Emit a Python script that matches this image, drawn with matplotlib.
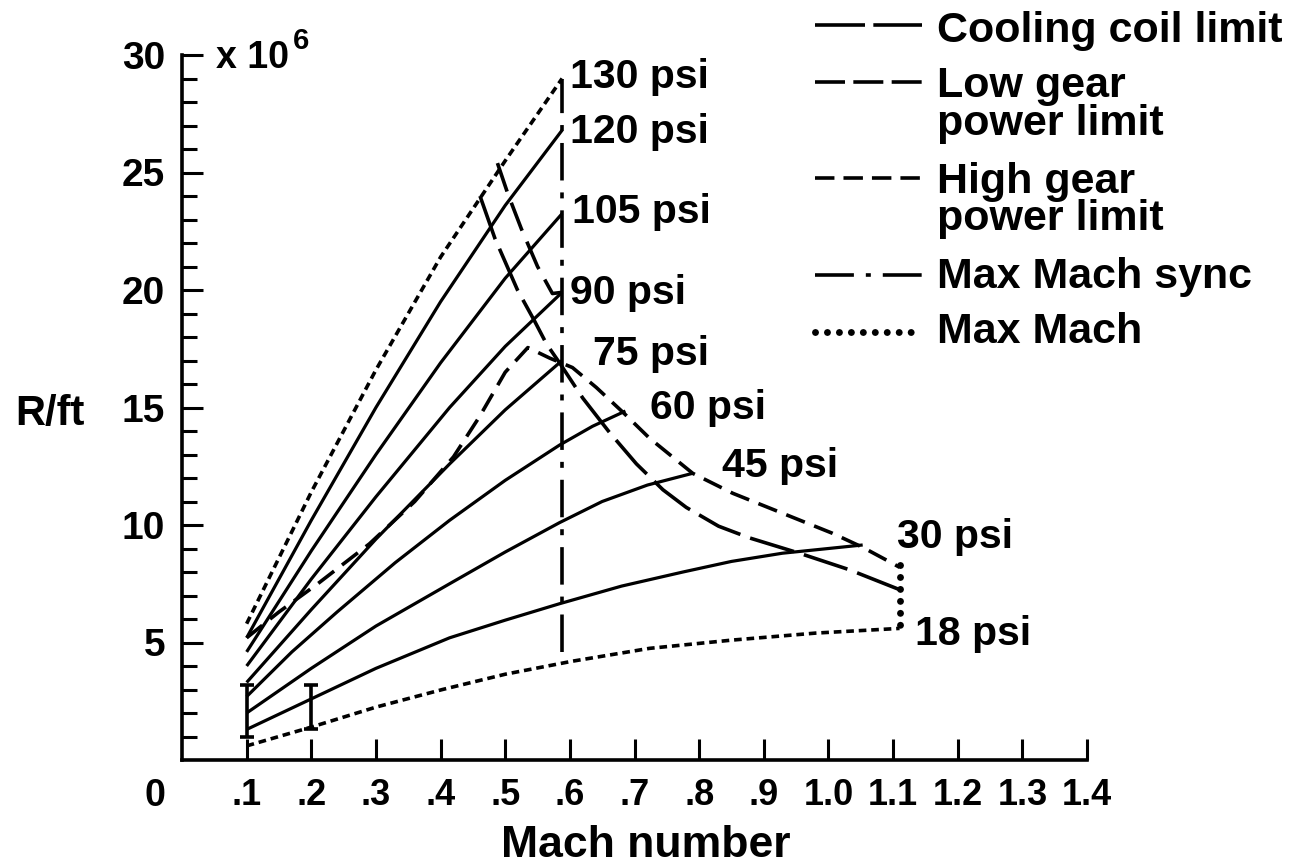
import matplotlib
matplotlib.use("Agg")
import matplotlib.pyplot as plt
from matplotlib.lines import Line2D

plt.rcParams['font.family'] = ['Liberation Sans', 'DejaVu Sans']
plt.rcParams['font.weight'] = 'bold'
plt.rcParams['lines.scale_dashes'] = False

# ---------------- data (Mach number, R/ft x 1e6) ----------------
mach_ticks = [0.1, 0.2, 0.3, 0.4, 0.5, 0.6, 0.7, 0.8, 0.9, 1.0, 1.1, 1.2, 1.3, 1.4]
mach_tick_labels = ['.1', '.2', '.3', '.4', '.5', '.6', '.7', '.8', '.9',
                    '1.0', '1.1', '1.2', '1.3', '1.4']
rft_ticks = [5, 10, 15, 20, 25, 30]

# constant-pressure lines
p130_x = [0.10, 0.20, 0.30, 0.40, 0.50, 0.588]
p130_y = [5.8, 11.4, 16.6, 21.4, 25.5, 29.0]
p120_x = [0.10, 0.20, 0.30, 0.40, 0.50, 0.588]
p120_y = [5.2, 10.2, 15.0, 19.5, 23.6, 26.8]
p105_x = [0.10, 0.20, 0.30, 0.40, 0.50, 0.588]
p105_y = [4.6, 8.9, 13.0, 16.9, 20.5, 23.25]
p90_x = [0.10, 0.20, 0.30, 0.414, 0.50, 0.588]
p90_y = [4.0, 7.7, 11.2, 15.0, 17.6, 19.9]
p75_x = [0.10, 0.20, 0.30, 0.414, 0.50, 0.588]
p75_y = [3.3, 6.4, 9.4, 12.6, 14.9, 17.0]
p60_x = [0.10, 0.17, 0.24, 0.33, 0.414, 0.50, 0.584, 0.635, 0.686]
p60_y = [2.7, 4.6, 6.3, 8.4, 10.2, 11.9, 13.4, 14.2, 14.85]
p45_x = [0.10, 0.20, 0.30, 0.414, 0.50, 0.584, 0.65, 0.72, 0.79]
p45_y = [2.0, 3.9, 5.7, 7.5, 8.85, 10.1, 11.0, 11.7, 12.2]
p30_x = [0.10, 0.20, 0.30, 0.414, 0.50, 0.584, 0.68, 0.775, 0.85, 0.929, 1.0, 1.053]
p30_y = [1.3, 2.6, 3.9, 5.2, 5.95, 6.65, 7.4, 8.0, 8.45, 8.8, 9.0, 9.15]
p18_x = [0.10, 0.20, 0.30, 0.403, 0.50, 0.603, 0.723, 0.85, 0.98, 1.11]
p18_y = [0.6, 1.4, 2.25, 3.0, 3.65, 4.2, 4.75, 5.1, 5.4, 5.6]

# limit lines
cool_x = [0.461, 0.484, 0.519, 0.545, 0.564, 0.584, 0.62, 0.661, 0.703, 0.744,
          0.78, 0.83, 0.878, 0.955, 1.032, 1.11]
cool_y = [24.0, 22.2, 20.0, 18.7, 17.7, 16.9, 15.4, 13.95, 12.6, 11.5,
          10.75, 9.95, 9.45, 8.8, 8.1, 7.25]
lowgear_x = [0.488, 0.504, 0.525, 0.55, 0.573, 0.588]
lowgear_y = [25.4, 24.1, 22.6, 21.0, 19.85, 19.9]
highgear_x = [0.10, 0.15, 0.21, 0.29, 0.36, 0.42, 0.46, 0.50, 0.535, 0.569,
              0.604, 0.641, 0.682, 0.723, 0.79, 0.852, 0.929, 1.006, 1.053, 1.099, 1.11]
highgear_y = [5.2, 6.3, 7.5, 9.2, 11.0, 12.9, 14.6, 16.5, 17.55, 17.1,
              16.7, 15.85, 14.8, 13.7, 12.2, 11.35, 10.5, 9.65, 9.05, 8.37, 8.2]
sync_x = [0.588, 0.588]
sync_y = [4.6, 29.0]
maxmach_x = [1.11, 1.11]
maxmach_y = [8.3, 5.6]

# uncertainty bars
err_x = [0.1, 0.2]
err_lo = [1.0, 1.3]
err_hi = [3.2, 3.2]

psi_labels = ['130 psi', '120 psi', '105 psi', '90 psi', '75 psi', '60 psi',
              '45 psi', '30 psi', '18 psi']
psi_label_x = [0.600, 0.600, 0.603, 0.600, 0.636, 0.724, 0.835, 1.106, 1.134]
psi_label_y = [28.6, 26.26, 22.86, 19.42, 16.79, 14.53, 12.03, 9.01, 4.89]

legend_labels = ['Cooling coil limit', 'Low gear\npower limit', 'High gear\npower limit',
                 'Max Mach sync', 'Max Mach']

# ---------------- styles ----------------
LW = 2.3
st_solid = dict(color='black', lw=LW, solid_capstyle='butt', solid_joinstyle='round')
st_fine = dict(color='black', lw=2.6, ls=(0, (5.5, 3.5)), dash_capstyle='butt')
st_dots = dict(color='black', lw=5, ls=(0, (0.01, 8.6)), dash_capstyle='round')
st_cool = dict(color='black', lw=2.6, ls=(0, (33, 7.5)), dash_capstyle='butt')
st_low = dict(color='black', lw=2.6, ls=(0, (21.6, 8.6)), dash_capstyle='butt')
st_high = dict(color='black', lw=2.6, ls=(0, (14.4, 7.2)), dash_capstyle='butt')
st_sync = dict(color='black', lw=2.6, ls=(0, (27, 8.6, 4.3, 8.6)), dash_capstyle='butt')

W, H = 1297, 868
fig = plt.figure(figsize=(W / 100, H / 100), dpi=100)
ax = fig.add_axes([182 / W, 1 - 760 / H, (1087 - 182) / W, (760 - 55) / H])
ax.set_xlim(0, 1.4)
ax.set_ylim(0, 30)

ax.plot(p130_x, p130_y, **st_fine)
for xs, ys in [(p120_x, p120_y), (p105_x, p105_y), (p90_x, p90_y), (p75_x, p75_y),
               (p60_x, p60_y), (p45_x, p45_y), (p30_x, p30_y)]:
    ax.plot(xs, ys, **st_solid)
ax.plot(p18_x, p18_y, **st_fine)
ax.plot(maxmach_x, maxmach_y, **st_dots)
ax.plot(cool_x, cool_y, **st_cool)
ax.plot(lowgear_x, lowgear_y, **st_low)
ax.plot(highgear_x, highgear_y, **st_high)
ax.plot(sync_x, sync_y, **st_sync)

mid = [(a + b) / 2 for a, b in zip(err_lo, err_hi)]
half = [(b - a) / 2 for a, b in zip(err_lo, err_hi)]
ax.errorbar(err_x, mid, yerr=half, fmt='none', ecolor='black', elinewidth=2.6,
            capsize=4.7, capthick=2.6)

for t, x, y in zip(psi_labels, psi_label_x, psi_label_y):
    ax.text(x, y, t, fontsize=29.5, fontweight='bold', ha='left', va='baseline')

# axes styling
for s in ['top', 'right']:
    ax.spines[s].set_visible(False)
for s in ['left', 'bottom']:
    ax.spines[s].set_linewidth(2.6)
ax.set_xticks(mach_ticks)
ax.set_xticklabels(mach_tick_labels)
ax.set_yticks(rft_ticks)
ax.set_yticks(range(1, 30), minor=True)
ax.tick_params(axis='x', direction='in', length=15, width=2.2, pad=13, labelsize=26)
ax.tick_params(axis='y', which='major', direction='in', length=15, width=2.2, pad=12, labelsize=28)
ax.tick_params(axis='y', which='minor', direction='in', length=10.5, width=2.2)
ax.tick_params(axis='x', which='minor', bottom=False)
for lab in ax.get_xticklabels() + ax.get_yticklabels():
    lab.set_fontweight('bold')

ax.annotate('0', xy=(0, 0), xycoords='data', xytext=(-27, -36), textcoords='offset pixels',
            fontsize=27, fontweight='bold', ha='center', va='center')

ax.set_xlabel('Mach number', fontsize=32, fontweight='bold')
ax.xaxis.set_label_coords((646 - 182) / 905, (760 - 857) / 705)
ax.xaxis.label.set_va('baseline')
ax.set_ylabel('R/ft', fontsize=30, fontweight='bold', rotation=0)
ax.yaxis.set_label_coords((50 - 182) / 905, (760 - 425) / 705)
ax.yaxis.label.set_va('baseline')
ax.yaxis.label.set_ha('center')

ax.text(0.052, 29.45, 'x 10', fontsize=27, fontweight='bold', ha='left', va='baseline')
ax.text(0.171, 30.25, '6', fontsize=21, fontweight='bold', ha='left', va='baseline')

# ---------------- legend (drawn manually in figure pixels) ----------------
def fx(px):
    return px / W

def fy(py):
    return 1 - py / H

leg_styles = [
    dict(color='black', lw=2.6, ls=(0, (36, 6)), dash_capstyle='butt'),
    dict(color='black', lw=2.6, ls=(0, (21.6, 6)), dash_capstyle='butt'),
    dict(color='black', lw=2.6, ls=(0, (14, 6.5)), dash_capstyle='butt'),
    dict(color='black', lw=2.6, ls=(0, (28, 8.6, 3.6, 8.6)), dash_capstyle='butt'),
    dict(color='black', lw=5, ls=(0, (0.01, 8.6)), dash_capstyle='round'),
]
leg_line_y = [25, 82, 178, 275, 332]
leg_text_base = [[42], [97, 135], [193, 230], [288], [343]]
for lab, st, ly, bases in zip(legend_labels, leg_styles, leg_line_y, leg_text_base):
    fig.add_artist(Line2D([fx(815), fx(922)], [fy(ly), fy(ly)], transform=fig.transFigure, **st))
    for line, b in zip(lab.split('\n'), bases):
        fig.text(fx(937), fy(b), line, fontsize=31, fontweight='bold', ha='left', va='baseline')

fig.savefig('out.png', dpi=100)
